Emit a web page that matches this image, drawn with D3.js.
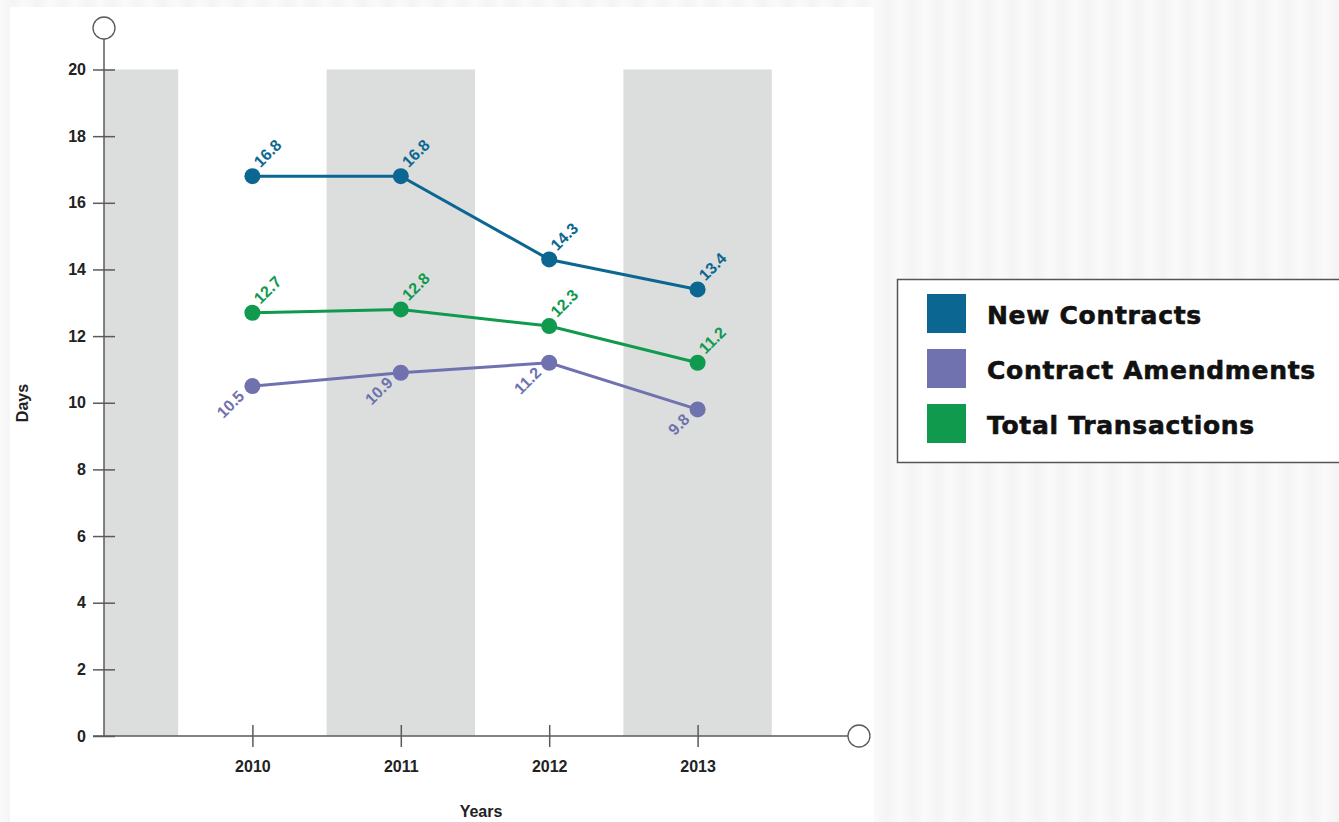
<!DOCTYPE html>
<html>
<head>
<meta charset="utf-8">
<script src="https://cdn.jsdelivr.net/npm/d3@7"></script>
<style>
  body { margin: 0; background: #f7f7f7; }
  svg { display: block; }
</style>
</head>
<body>
<svg id="chart" width="1339" height="822"></svg>
<script>
// data
const years = [2010, 2011, 2012, 2013];
const bandYears = [2009, 2011, 2013];
const newContracts = [16.8, 16.8, 14.3, 13.4];
const amendments = [10.5, 10.9, 11.2, 9.8];
const totals = [12.7, 12.8, 12.3, 11.2];
const yTicks = [0, 2, 4, 6, 8, 10, 12, 14, 16, 18, 20];

const series = [
  { name: "New Contracts", values: newContracts, color: "#0b6791", labelSide: "above" },
  { name: "Contract Amendments", values: amendments, color: "#6f72ae", labelSide: "below" },
  { name: "Total Transactions", values: totals, color: "#0f9a4d", labelSide: "above" }
];

const svg = d3.select("#chart");

// faint stripes in the background
const defs = svg.append("defs");
const pat = defs.append("pattern")
  .attr("id", "stripes")
  .attr("width", 25).attr("height", 822)
  .attr("patternUnits", "userSpaceOnUse");
const grad = defs.append("linearGradient").attr("id", "sg");
grad.append("stop").attr("offset", "0%").attr("stop-color", "#fafafa");
grad.append("stop").attr("offset", "50%").attr("stop-color", "#f4f4f4");
grad.append("stop").attr("offset", "100%").attr("stop-color", "#fafafa");
pat.append("rect").attr("width", 25).attr("height", 822).attr("fill", "url(#sg)");
svg.append("rect").attr("width", 1339).attr("height", 822).attr("fill", "url(#stripes)");

// white panel
svg.append("rect")
  .attr("x", 10).attr("y", 7)
  .attr("width", 864).attr("height", 815)
  .attr("fill", "#fff");

const x = d3.scaleLinear().domain([2009, 2014]).range([104, 846]);
const y = d3.scaleLinear().domain([0, 20]).range([736, 69.5]);

// grey bands
svg.append("g")
  .selectAll("rect")
  .data(bandYears)
  .join("rect")
  .attr("x", d => Math.max(x(d - 0.5), x(2009)))
  .attr("width", d => x(d + 0.5) - Math.max(x(d - 0.5), x(2009)))
  .attr("y", y(20))
  .attr("height", y(0) - y(20))
  .attr("fill", "#dcdedd");

const axisColor = "#5a5a5a";
const axisFont = "bold 16px 'Liberation Sans', Arial, sans-serif";

// y axis
const yAxis = svg.append("g")
  .attr("transform", `translate(${x(2009)},0)`)
  .call(d3.axisLeft(y).tickValues(yTicks).tickSize(11).tickPadding(7));
yAxis.select(".domain").remove();
yAxis.selectAll(".tick line").attr("x2", 11).attr("x1", -11);
yAxis.append("line")
  .attr("x1", 0).attr("x2", 0)
  .attr("y1", 39).attr("y2", y(0));
svg.append("circle")
  .attr("cx", x(2009)).attr("cy", 28).attr("r", 11)
  .attr("fill", "#fff").attr("stroke", axisColor).attr("stroke-width", 1.3);

// x axis
const xAxis = svg.append("g")
  .attr("transform", `translate(0,${y(0)})`)
  .call(d3.axisBottom(x).tickValues(years).tickFormat(d3.format("d")).tickSize(11).tickPadding(14));
xAxis.select(".domain").remove();
xAxis.selectAll(".tick line").attr("y1", -11).attr("y2", 11);
xAxis.append("line")
  .attr("x1", 93).attr("x2", 848)
  .attr("y1", 0).attr("y2", 0);
svg.append("circle")
  .attr("cx", 859).attr("cy", y(0)).attr("r", 11)
  .attr("fill", "#fff").attr("stroke", axisColor).attr("stroke-width", 1.3);

svg.selectAll(".tick line, g > line")
  .attr("stroke", axisColor).attr("stroke-width", 1.5);
svg.selectAll(".tick text")
  .attr("fill", "#222")
  .style("font", axisFont);

// axis titles
svg.append("text")
  .attr("x", 481).attr("y", 817)
  .attr("text-anchor", "middle")
  .attr("fill", "#222")
  .style("font", axisFont)
  .text("Years");
svg.append("text")
  .attr("transform", `translate(28,403) rotate(-90)`)
  .attr("text-anchor", "middle")
  .attr("fill", "#222")
  .style("font", axisFont)
  .text("Days");

// lines, dots, labels
const line = d3.line()
  .x((d, i) => x(years[i]))
  .y(d => y(d));

series.forEach(s => {
  const g = svg.append("g");
  g.append("path")
    .datum(s.values)
    .attr("d", line)
    .attr("fill", "none")
    .attr("stroke", s.color)
    .attr("stroke-width", 3);
  g.selectAll("circle")
    .data(s.values)
    .join("circle")
    .attr("cx", (d, i) => x(years[i]))
    .attr("cy", d => y(d))
    .attr("r", 8)
    .attr("fill", s.color);
  g.selectAll("text")
    .data(s.values)
    .join("text")
    .attr("transform", (d, i) => {
      const px = x(years[i]), py = y(d);
      return s.labelSide === "above"
        ? `translate(${px + 8},${py - 8}) rotate(-45)`
        : `translate(${px - 7},${py + 11}) rotate(-45)`;
    })
    .attr("text-anchor", s.labelSide === "above" ? "start" : "end")
    .attr("fill", s.color)
    .style("font", "bold 16px 'Liberation Sans', Arial, sans-serif")
    .text(d => d3.format(".1f")(d));
});

// legend
const legend = svg.append("g");
legend.append("rect")
  .attr("x", 897.5).attr("y", 279.5)
  .attr("width", 460).attr("height", 183)
  .attr("fill", "#fff")
  .attr("stroke", "#555").attr("stroke-width", 1.5);
const li = legend.selectAll("g.item")
  .data(series)
  .join("g")
  .attr("class", "item")
  .attr("transform", (d, i) => `translate(927,${294 + i * 55})`);
li.append("rect")
  .attr("width", 39).attr("height", 39)
  .attr("fill", d => d.color);
li.append("text")
  .attr("x", 60).attr("y", 30)
  .attr("fill", "#111")
  .style("font", "bold 25px 'DejaVu Sans', sans-serif")
  .style("letter-spacing", "0.7px")
  .attr("stroke", "#111").attr("stroke-width", 0.6)
  .text(d => d.name);
</script>
</body>
</html>
